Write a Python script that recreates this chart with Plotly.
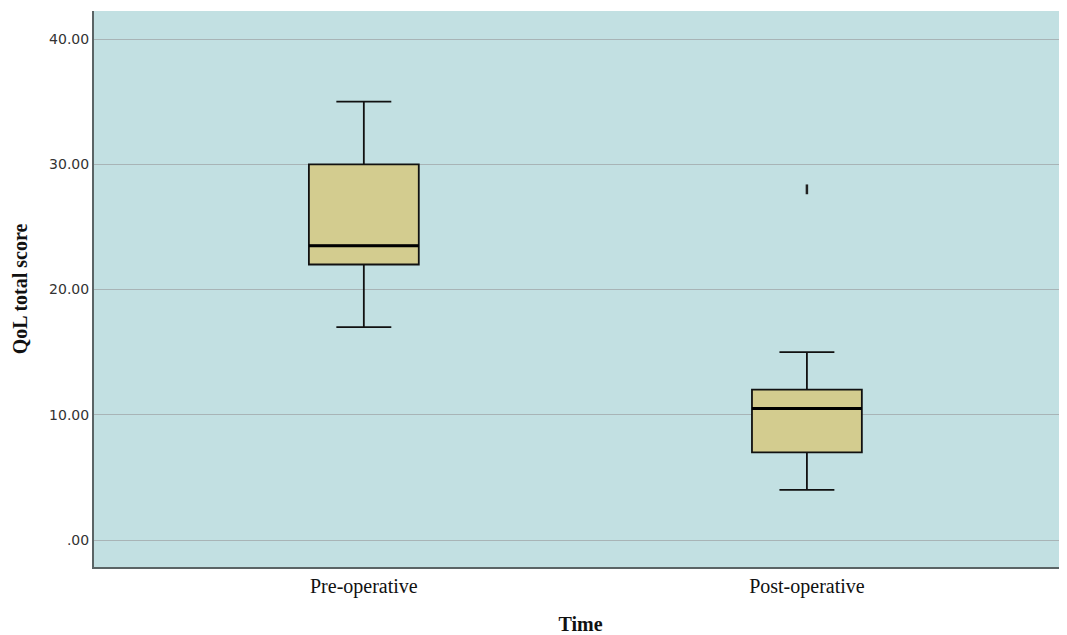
import plotly.graph_objects as go

categories = ["Pre-operative", "Post-operative"]
lower_whisker = [17, 4]
q1_values = [22, 7]
median_values = [23.5, 10.5]
q3_values = [30, 12]
upper_whisker = [35, 15]
outlier_x = [1]
outlier_y = [28]
y_tick_vals = [0, 10, 20, 30, 40]
y_tick_text = [".00", "10.00", "20.00", "30.00", "40.00"]

box_width = 0.248
positions = list(range(len(categories)))

fig = go.Figure()
for i, cat in enumerate(categories):
    fig.add_trace(go.Box(
        x=[positions[i]],
        q1=[q1_values[i]], median=[median_values[i]], q3=[q3_values[i]],
        lowerfence=[lower_whisker[i]], upperfence=[upper_whisker[i]],
        name=cat, width=box_width, whiskerwidth=0.5,
        fillcolor="#D3CC8F", line=dict(color="#111111", width=1.8),
        boxpoints=False, showlegend=False, hoverinfo="skip",
    ))
    fig.add_trace(go.Scatter(
        x=[positions[i] - box_width / 2, positions[i] + box_width / 2],
        y=[median_values[i], median_values[i]],
        mode="lines", line=dict(color="#000000", width=3),
        showlegend=False, hoverinfo="skip",
    ))

fig.add_trace(go.Scatter(
    x=outlier_x, y=outlier_y, mode="markers",
    marker=dict(symbol="line-ns", size=7, line=dict(color="#222222", width=2.5)),
    showlegend=False, hoverinfo="skip",
))

# page body has an 8px margin; size the figure so the plot lands where the reference has it
fig.update_layout(
    width=1059, height=627,
    margin=dict(l=86, r=0, t=3, b=68),
    paper_bgcolor="white",
    plot_bgcolor="#C2E0E2",
    xaxis=dict(
        range=[-0.609, 1.587],
        tickvals=positions, ticktext=categories,
        tickfont=dict(family="Liberation Serif", size=20, color="#111111"),
        showgrid=False, zeroline=False,
        showline=True, linecolor="#5a6465", linewidth=2,
        ticks="",
        title=dict(text="<b>Time</b>", font=dict(family="Liberation Serif", size=20, color="#111111"), standoff=21),
    ),
    yaxis=dict(
        range=[-2.156, 42.24],
        tickvals=y_tick_vals, ticktext=y_tick_text,
        tickfont=dict(family="DejaVu Sans", size=14, color="#333333"),
        showgrid=True, gridcolor="#A8B4B6", gridwidth=1,
        zeroline=False,
        showline=True, linecolor="#5a6465", linewidth=2,
        ticks="",
        title=dict(text="<b>QoL total score</b>", font=dict(family="Liberation Serif", size=20, color="#111111"), standoff=16),
    ),
)

fig.write_html("out.html")
